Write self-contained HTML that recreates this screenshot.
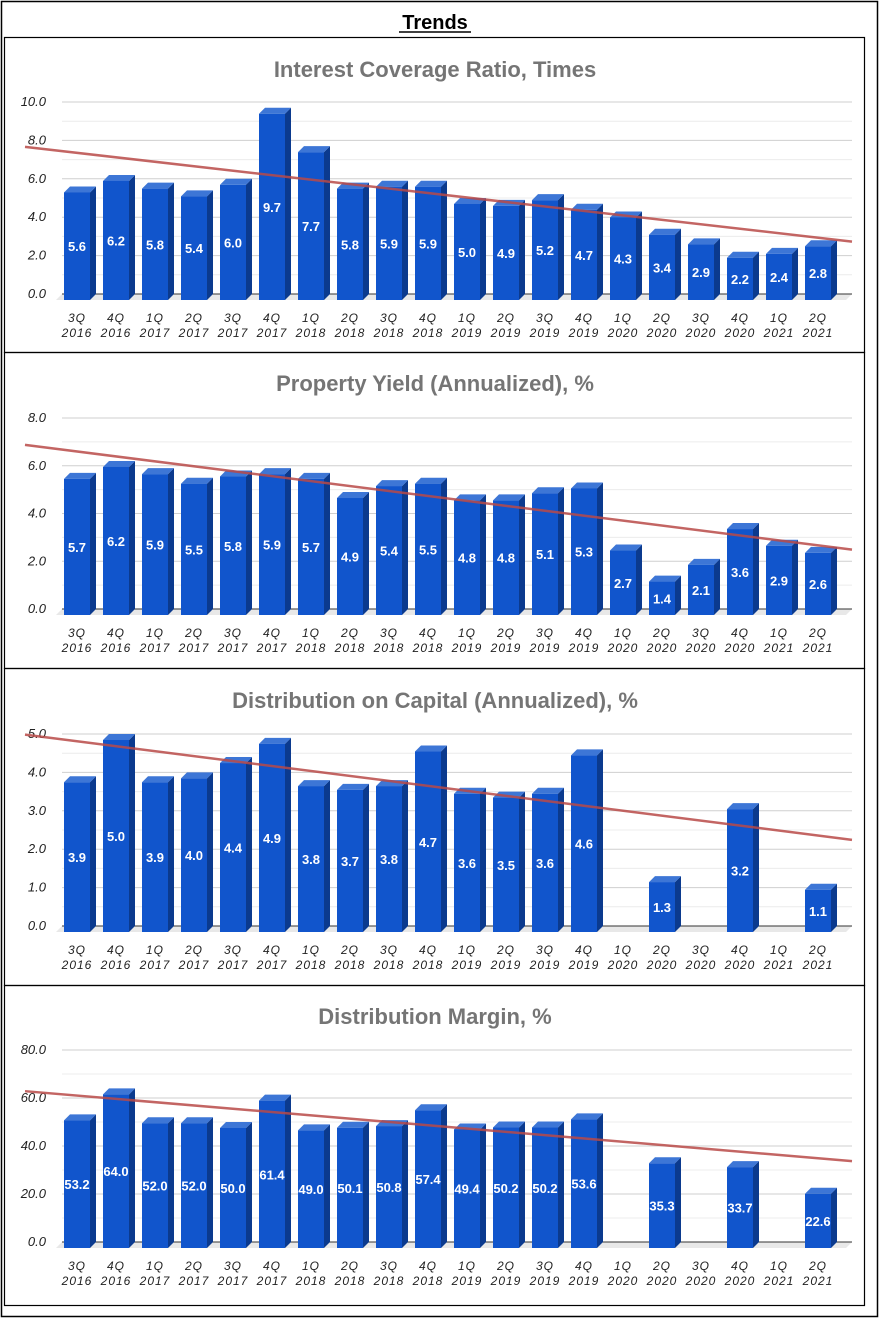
<!DOCTYPE html>
<html><head><meta charset="utf-8"><style>
body{margin:0;background:#fff;width:881px;height:1320px;overflow:hidden;font-family:"Liberation Sans",sans-serif}
</style></head><body>
<svg id="root" width="881" height="1320" xmlns="http://www.w3.org/2000/svg">
<rect x="1.5" y="1.5" width="876" height="1315" fill="none" stroke="#000" stroke-width="1.5"/>
<text x="435" y="29" text-anchor="middle" font-size="20" font-weight="bold">Trends</text>
<line x1="399" y1="32" x2="471" y2="32" stroke="#000" stroke-width="1.5"/>
</svg>
<script>
const categories=["3Q|2016","4Q|2016","1Q|2017","2Q|2017","3Q|2017","4Q|2017","1Q|2018","2Q|2018","3Q|2018","4Q|2018","1Q|2019","2Q|2019","3Q|2019","4Q|2019","1Q|2020","2Q|2020","3Q|2020","4Q|2020","1Q|2021","2Q|2021"];
const coverageValues=[5.6,6.2,5.8,5.4,6.0,9.7,7.7,5.8,5.9,5.9,5.0,4.9,5.2,4.7,4.3,3.4,2.9,2.2,2.4,2.8];
const yieldValues=[5.7,6.2,5.9,5.5,5.8,5.9,5.7,4.9,5.4,5.5,4.8,4.8,5.1,5.3,2.7,1.4,2.1,3.6,2.9,2.6];
const capitalValues=[3.9,5.0,3.9,4.0,4.4,4.9,3.8,3.7,3.8,4.7,3.6,3.5,3.6,4.6,null,1.3,null,3.2,null,1.1];
const marginValues=[53.2,64.0,52.0,52.0,50.0,61.4,49.0,50.1,50.8,57.4,49.4,50.2,50.2,53.6,null,35.3,null,33.7,null,22.6];
const coverageTicks=["0.0","2.0","4.0","6.0","8.0","10.0"];
const yieldTicks=["0.0","2.0","4.0","6.0","8.0"];
const capitalTicks=["0.0","1.0","2.0","3.0","4.0","5.0"];
const marginTicks=["0.0","20.0","40.0","60.0","80.0"];

const NS="http://www.w3.org/2000/svg";
const root=document.getElementById('root');
function mk(tag,attrs,parent,txt){const e=document.createElementNS(NS,tag);for(const k in attrs)e.setAttribute(k,attrs[k]);if(txt!=null)e.textContent=txt;(parent||root).appendChild(e);return e;}

function chart(cfg,values,ticks){
  const g=mk('g',{});
  
  
  const panel=mk('rect',{x:4.5,y:cfg.top+0.5,width:860,height:cfg.h,fill:'none',stroke:'#000','stroke-width':1.2},g);
  
  
  const t=mk('text',{x:435,y:cfg.titleY,'text-anchor':'middle','font-size':22,'font-weight':'bold',fill:'#757575'},g,cfg.title);
  
  
  const base=cfg.base, maxV=parseFloat(ticks[ticks.length-1]);
  const sc=(cfg.base-cfg.topY)/maxV;
  const yS=v=>base-v*sc;
  const xS=i=>77+i*39;
  const step=parseFloat(ticks[1]);
  for(let k=1;k<=(ticks.length-1)*2;k++){
    const y=yS(k*step/2);
    const gl=mk('line',{x1:62,x2:852,y1:y,y2:y,stroke:k%2?'#ececec':'#cfcfcf','stroke-width':1},g);
    
    
  }
  ticks.forEach(tk=>{
    const tl=mk('text',{x:46,y:yS(parseFloat(tk))+4,'text-anchor':'end','font-size':13,'font-style':'italic',fill:'#222'},g,tk);
    
    
  });
  const fl=mk('polygon',{points:`62,${base} 852,${base} 846,${base+6} 56,${base+6}`,fill:'#e8e8e8'},g);
  
  
  const bl=mk('line',{x1:62,x2:852,y1:base,y2:base,stroke:'#333','stroke-width':1},g);
  
  
  categories.forEach((c,i)=>{
    const [q,yr]=c.split('|');const x=xS(i);
    const cl=mk('text',{x:x,y:base+28,'text-anchor':'middle','font-size':12,'font-style':'italic',fill:'#222','letter-spacing':'1'},g);
    
    
    mk('tspan',{x:x,dy:0},cl,q);mk('tspan',{x:x,dy:15},cl,yr);
    const v=values[i];if(v==null)return;
    const bg=mk('g',{},g);
    
    
    const x0=x-13,x1=x+13,yb=base+6,yt=yb-v*sc,d=6;
    mk('polygon',{points:`${x1},${yb} ${x1+d},${yb-d} ${x1+d},${yt-d} ${x1},${yt}`,fill:'#0b3a8e'},bg);
    mk('polygon',{points:`${x0},${yt} ${x0+d},${yt-d} ${x1+d},${yt-d} ${x1},${yt}`,fill:'#3d76d6'},bg);
    mk('rect',{x:x0,y:yt,width:26,height:yb-yt,fill:'#1155cc'},bg);
    const vl=mk('text',{x:x,y:(yt+yb)/2+5,'text-anchor':'middle','font-size':13,'font-weight':'bold',fill:'#fff'},bg,v.toFixed(1));
    
    
  });
  let n=0,sx=0,sy=0,sxx=0,sxy=0;
  values.forEach((v,i)=>{if(v==null)return;n++;sx+=i;sy+=v;sxx+=i*i;sxy+=i*v;});
  const m=(n*sxy-sx*sy)/(n*sxx-sx*sx),b=(sy-m*sx)/n;
  const ia=(25-77)/39, ib=(852-77)/39;
  const tr=mk('line',{x1:xS(ia),y1:yS(m*ia+b)-1,x2:xS(ib),y2:yS(m*ib+b)-1,stroke:'#b94a48','stroke-opacity':0.85,'stroke-width':2.5},g);
  
  
}
chart({name:'interest-coverage-chart',title:'Interest Coverage Ratio, Times',top:37,h:315,titleY:77,base:294,topY:102},coverageValues,coverageTicks);
chart({name:'property-yield-chart',title:'Property Yield (Annualized), %',top:352,h:316,titleY:391,base:609,topY:418},yieldValues,yieldTicks);
chart({name:'distribution-capital-chart',title:'Distribution on Capital (Annualized), %',top:668,h:317,titleY:708,base:926,topY:734},capitalValues,capitalTicks);
chart({name:'distribution-margin-chart',title:'Distribution Margin, %',top:985,h:320,titleY:1024,base:1242,topY:1050},marginValues,marginTicks);
</script>
</body></html>
